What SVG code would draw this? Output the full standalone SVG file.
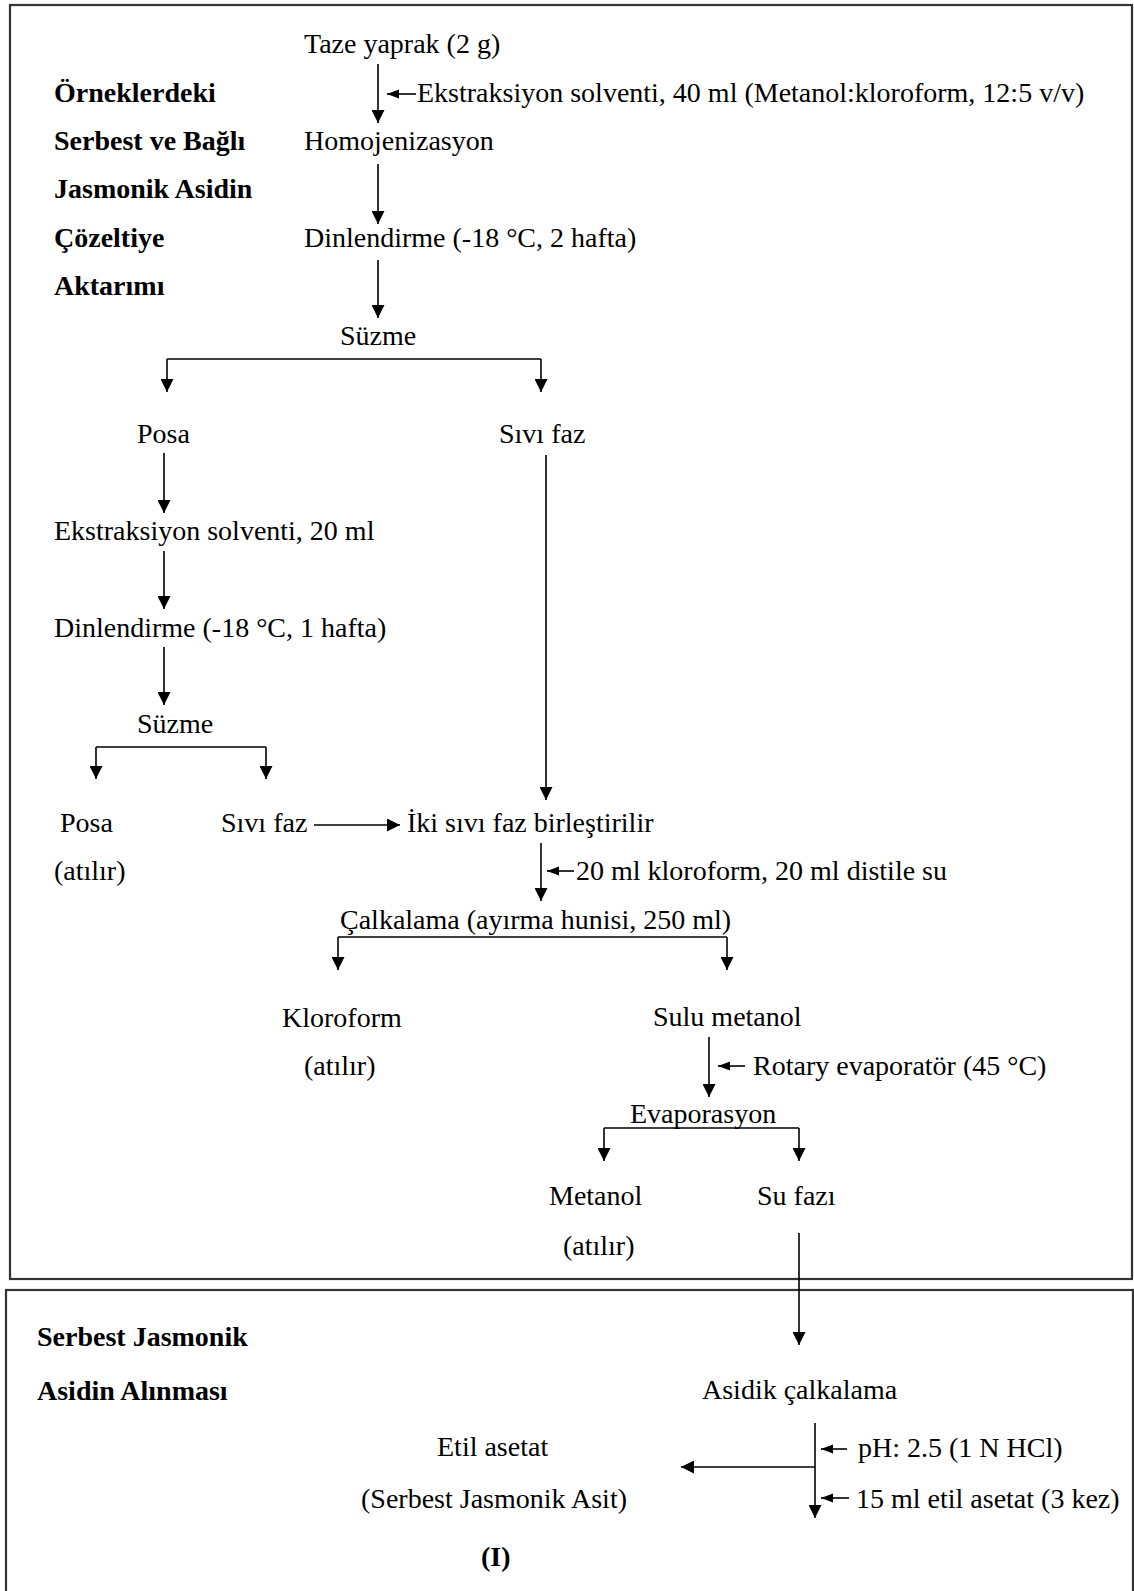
<svg xmlns="http://www.w3.org/2000/svg" width="1134" height="1591" viewBox="0 0 1134 1591">
<style>
text{font-family:"Liberation Serif","Times New Roman",serif;font-size:28px;fill:#000}
.b{font-weight:bold}
.box{fill:none;stroke:#333;stroke-width:2.2}
.c{fill:none;stroke:#000;stroke-width:1.6}
.d{marker-end:url(#ah)}
.s{marker-end:url(#sh)}
</style>
<defs>
<marker id="ah" markerUnits="userSpaceOnUse" markerWidth="14" markerHeight="13" refX="13" refY="6.5" orient="auto"><path d="M0,0 L13,6.5 L0,13 z" fill="#000"/></marker>
<marker id="sh" markerUnits="userSpaceOnUse" markerWidth="13" markerHeight="10" refX="12" refY="4.5" orient="auto"><path d="M0,0 L12,4.5 L0,9 z" fill="#000"/></marker>
</defs>
<rect width="1134" height="1591" fill="#fff"/>
<rect class="box" x="10" y="5" width="1122" height="1274"/>
<rect class="box" x="6" y="1290" width="1127" height="400"/>

<g id="heading1">
<text class="b" x="54" y="102">Örneklerdeki</text>
<text class="b" x="54" y="150">Serbest ve Bağlı</text>
<text class="b" x="54" y="198">Jasmonik Asidin</text>
<text class="b" x="54" y="247">Çözeltiye</text>
<text class="b" x="54" y="295">Aktarımı</text>
</g>
<g id="heading2">
<text class="b" x="37" y="1346">Serbest Jasmonik</text>
<text class="b" x="37" y="1400">Asidin Alınması</text>
</g>

<g id="n_taze"><text x="304" y="53">Taze yaprak (2 g)</text></g>
<g id="n_ekst1"><text x="417" y="102">Ekstraksiyon solventi, 40 ml (Metanol:kloroform, 12:5 v/v)</text></g>
<g id="n_homo"><text x="304" y="150">Homojenizasyon</text></g>
<g id="n_dinl1"><text x="304" y="247">Dinlendirme (-18 °C, 2 hafta)</text></g>
<g id="n_suzme1"><text x="340" y="345">Süzme</text></g>
<g id="n_posa1"><text x="137" y="443">Posa</text></g>
<g id="n_sivi1"><text x="499" y="443">Sıvı faz</text></g>
<g id="n_ekst2"><text x="54" y="540">Ekstraksiyon solventi, 20 ml</text></g>
<g id="n_dinl2"><text x="54" y="637">Dinlendirme (-18 °C, 1 hafta)</text></g>
<g id="n_suzme2"><text x="137" y="733">Süzme</text></g>
<g id="n_posa2"><text x="60" y="832">Posa</text><text x="54" y="880">(atılır)</text></g>
<g id="n_sivi2"><text x="221" y="832">Sıvı faz</text></g>
<g id="n_iki"><text x="407" y="832">İki sıvı faz birleştirilir</text></g>
<g id="n_kloro_add"><text x="576" y="880">20 ml kloroform, 20 ml distile su</text></g>
<g id="n_calk"><text x="340" y="929">Çalkalama (ayırma hunisi, 250 ml)</text></g>
<g id="n_kloro"><text x="282" y="1027">Kloroform</text><text x="304" y="1075">(atılır)</text></g>
<g id="n_sulu"><text x="653" y="1026">Sulu metanol</text></g>
<g id="n_rotary"><text x="753" y="1075">Rotary evaporatör (45 °C)</text></g>
<g id="n_evap"><text x="630" y="1123">Evaporasyon</text></g>
<g id="n_metanol"><text x="549" y="1205">Metanol</text><text x="563" y="1255">(atılır)</text></g>
<g id="n_su"><text x="757" y="1205">Su fazı</text></g>
<g id="n_asidik"><text x="702" y="1399">Asidik çalkalama</text></g>
<g id="n_ph"><text x="858" y="1457">pH: 2.5 (1 N HCl)</text></g>
<g id="n_etil_add"><text x="856" y="1508">15 ml etil asetat (3 kez)</text></g>
<g id="n_etil"><text x="437" y="1456">Etil asetat</text><text x="361" y="1508">(Serbest Jasmonik Asit)</text><text class="b" x="481" y="1566">(I)</text></g>

<g id="connectors">
<path class="c d" d="M378,64 V123"/>
<path class="c s" d="M416,94 H387"/>
<path class="c d" d="M378,164 V224"/>
<path class="c d" d="M378,260 V318"/>
<path class="c" d="M167,359 H541"/>
<path class="c d" d="M167,359 V392"/>
<path class="c d" d="M541,359 V392"/>
<path class="c d" d="M546,455 V800"/>
<path class="c d" d="M164,453 V513"/>
<path class="c d" d="M164,551 V609"/>
<path class="c d" d="M164,647 V705"/>
<path class="c" d="M96,747 H266"/>
<path class="c d" d="M96,747 V779"/>
<path class="c d" d="M266,747 V779"/>
<path class="c d" d="M314,825 H400"/>
<path class="c d" d="M541,843 V901"/>
<path class="c s" d="M574,871 H547"/>
<path class="c" d="M338,937 H727"/>
<path class="c d" d="M338,937 V970"/>
<path class="c d" d="M727,937 V970"/>
<path class="c d" d="M709,1037 V1097"/>
<path class="c s" d="M745,1066 H718"/>
<path class="c" d="M604,1128 H799"/>
<path class="c d" d="M604,1128 V1161"/>
<path class="c d" d="M799,1128 V1161"/>
<path class="c d" d="M799,1233 V1345"/>
<path class="c d" d="M815,1423 V1518"/>
<path class="c d" d="M815,1467 H681"/>
<path class="c s" d="M847,1449 H821"/>
<path class="c s" d="M849,1498 H821"/>
</g>
</svg>
